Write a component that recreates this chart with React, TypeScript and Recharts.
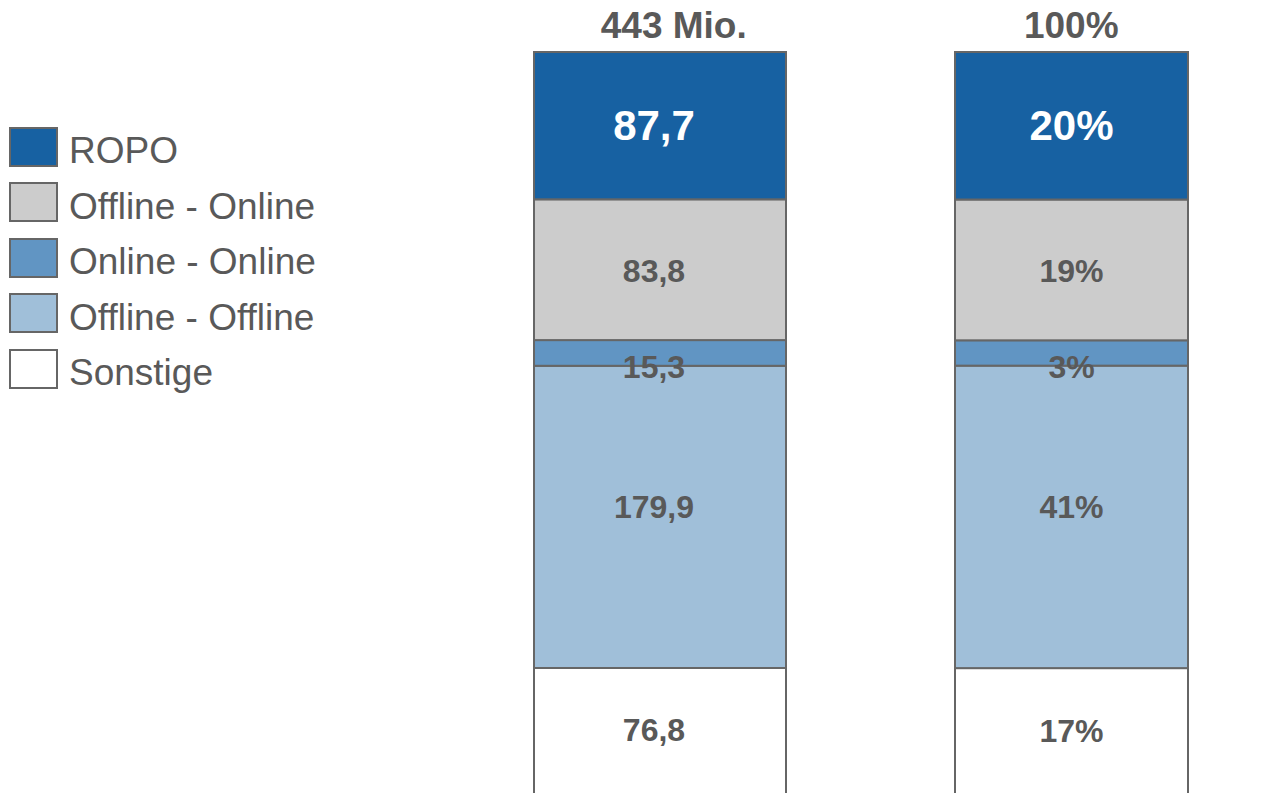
import React from 'react';
import { BarChart, Bar, XAxis, YAxis, LabelList } from 'recharts';

const categories = ['443 Mio.', '100%'];

const sonstige = [76.8, 17.3];
const offlineOffline = [179.9, 40.6];
const onlineOnline = [15.3, 3.4];
const offlineOnline = [83.8, 18.9];
const ropo = [87.7, 19.8];

const sonstigeLabels = ['76,8', '17%'];
const offlineOfflineLabels = ['179,9', '41%'];
const onlineOnlineLabels = ['15,3', '3%'];
const offlineOnlineLabels = ['83,8', '19%'];
const ropoLabels = ['87,7', '20%'];

const FONT = '"Liberation Sans", Arial, sans-serif';
const TEXT = '#595959';
const EDGE = '#666666';
const BAR_WIDTHS = [252, 233];
const TOP_LABEL_DX = [14, 0];
const INNER_LABEL_DX = [-6, 0];

const data = categories.map((name, i) => ({
  name,
  sonstige: sonstige[i],
  offlineOffline: offlineOffline[i],
  onlineOnline: onlineOnline[i],
  offlineOnline: offlineOnline[i],
  ropo: ropo[i],
}));

// stack order bottom -> top
const series = [
  { key: 'sonstige', name: 'Sonstige', color: '#ffffff', labels: sonstigeLabels, text: TEXT, size: 32, dy: -2 },
  { key: 'offlineOffline', name: 'Offline - Offline', color: '#a0bfd9', labels: offlineOfflineLabels, text: TEXT, size: 32, dy: -10 },
  { key: 'onlineOnline', name: 'Online - Online', color: '#6195c3', labels: onlineOnlineLabels, text: TEXT, size: 32, dy: 14 },
  { key: 'offlineOnline', name: 'Offline - Online', color: '#cccccc', labels: offlineOnlineLabels, text: TEXT, size: 32, dy: 1 },
  { key: 'ropo', name: 'ROPO', color: '#1761a2', labels: ropoLabels, text: '#ffffff', size: 42, dy: 0 },
];

const SegmentShape = (props: any) => {
  const { x, y, width, height, index, fill } = props;
  const w = BAR_WIDTHS[index] ?? width;
  const cx = x + width / 2;
  return (
    <rect x={cx - w / 2} y={y} width={w} height={height} fill={fill} stroke={EDGE} strokeWidth={2} />
  );
};

const makeLabel = (s: (typeof series)[number]) => (props: any) => {
  const box = props.viewBox ?? props;
  const { x, y, width, height } = box;
  const index = props.index ?? 0;
  return (
    <text
      x={x + width / 2 + (INNER_LABEL_DX[index] ?? 0)}
      y={y + height / 2 + s.dy}
      textAnchor="middle"
      dominantBaseline="central"
      fill={s.text}
      fontFamily={FONT}
      fontWeight="bold"
      fontSize={s.size}
    >
      {s.labels[index]}
    </text>
  );
};

const TopTick = (props: any) => {
  const { x, y, payload, index } = props;
  return (
    <text
      x={x + (TOP_LABEL_DX[index] ?? 0)}
      y={y}
      dy={-6}
      textAnchor="middle"
      fill={TEXT}
      fontFamily={FONT}
      fontWeight="bold"
      fontSize={37}
    >
      {payload.value}
    </text>
  );
};

// legend lists the stack top -> bottom
const LegendBox = () => (
  <div style={{ position: 'absolute', left: 9, top: 119, fontFamily: FONT }}>
    {[...series].reverse().map((s) => (
      <div key={s.key} style={{ display: 'flex', alignItems: 'center', height: 55.5 }}>
        <div
          style={{
            width: 45,
            height: 36,
            background: s.color,
            border: `2px solid ${EDGE}`,
            marginRight: 11,
          }}
        />
        <span style={{ fontSize: 37, color: TEXT, lineHeight: 1, position: 'relative', top: 4 }}>{s.name}</span>
      </div>
    ))}
  </div>
);

export default function App() {
  return (
    <div style={{ width: 1264, height: 793, overflow: 'hidden', position: 'relative' }}>
      <style>{'body { margin: 0; overflow: hidden; }'}</style>
      <BarChart
        width={1288}
        height={808}
        data={data}
        stackOffset="expand"
        barCategoryGap={80}
        margin={{ top: 0, right: 11, bottom: 11, left: 454 }}
      >
        <XAxis
          dataKey="name"
          orientation="top"
          height={52}
          axisLine={false}
          tickLine={false}
          tick={<TopTick />}
          interval={0}
        />
        <YAxis hide domain={[0, 1]} />
        {series.map((s) => (
          <Bar
            key={s.key}
            dataKey={s.key}
            name={s.name}
            stackId="a"
            fill={s.color}
            shape={<SegmentShape />}
            isAnimationActive={false}
          >
            <LabelList dataKey={s.key} content={makeLabel(s)} />
          </Bar>
        ))}
      </BarChart>
      <LegendBox />
    </div>
  );
}
